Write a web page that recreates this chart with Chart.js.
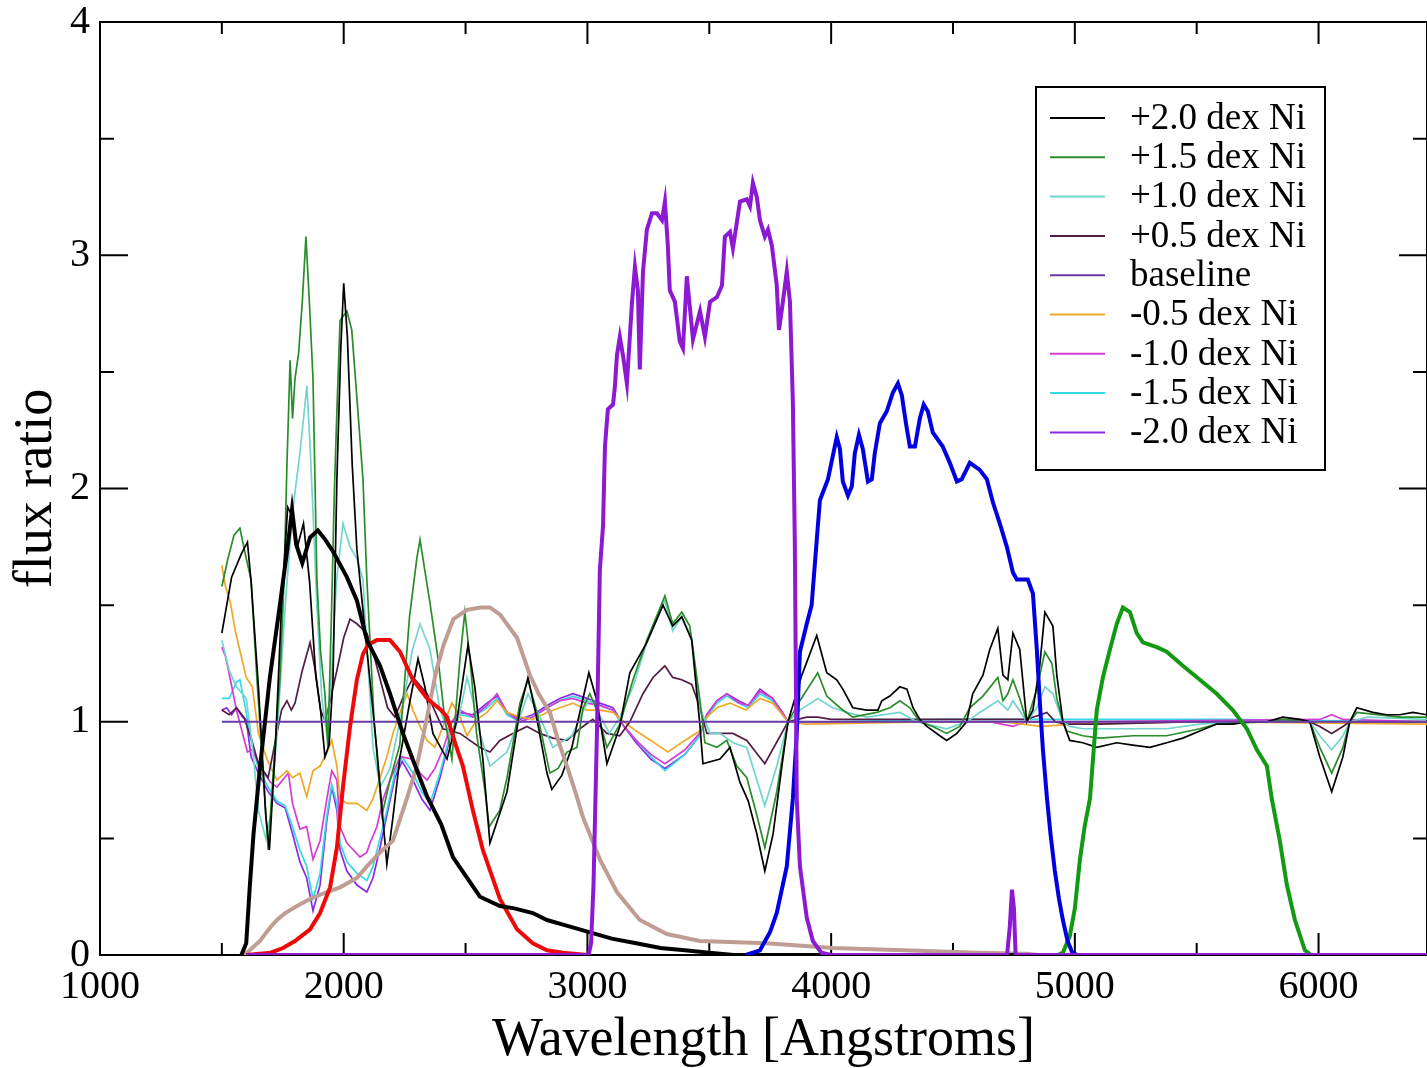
<!DOCTYPE html>
<html><head><meta charset="utf-8">
<script src="https://cdn.jsdelivr.net/npm/chart.js@4/dist/chart.umd.min.js"></script>
<style>html,body{margin:0;padding:0;background:#fff;overflow:hidden}canvas{display:block}</style>
</head><body>
<canvas id="c" width="1427" height="1068"></canvas>
<script>
// ---------- axis ticks ----------
const xTickValues = [1000, 2000, 3000, 4000, 5000, 6000];
const yTickValues = [0, 1, 2, 3, 4];

// ---------- legend labels ----------
const modelLabels = ['+2.0 dex Ni', '+1.5 dex Ni', '+1.0 dex Ni', '+0.5 dex Ni', 'baseline',
                     '-0.5 dex Ni', '-1.0 dex Ni', '-1.5 dex Ni', '-2.0 dex Ni'];

// ---------- model flux ratios: [wavelength, ratio] ----------
const plus20 = [[1500,1.38],[1540,1.62],[1580,1.72],[1605,1.77],[1620,1.6],[1650,1.15],[1680,0.6],[1695,0.45],[1720,0.9],[1745,1.5],[1770,1.92],[1790,1.88],[1810,1.75],[1835,1.85],[1860,1.6],[1885,1.2],[1905,1.05],[1923,0.85],[1940,0.9],[1956,1.18],[1972,2.04],[1988,2.6],[2000,2.88],[2015,2.65],[2035,2.1],[2054,1.74],[2095,1.31],[2136,0.88],[2177,0.39],[2202,0.59],[2231,0.85],[2272,1.09],[2305,1.27],[2333,1.15],[2366,0.95],[2424,0.84],[2465,1.01],[2510,1.33],[2538,1.15],[2571,0.84],[2600,0.48],[2670,0.7],[2723,1.05],[2756,1.19],[2793,1.01],[2834,0.78],[2854,0.71],[2895,0.77],[2936,0.89],[3006,1.21],[3039,1.09],[3080,0.82],[3133,0.98],[3174,1.21],[3244,1.34],[3310,1.50],[3350,1.41],[3387,1.45],[3428,1.35],[3462,0.98],[3474,0.82],[3544,0.84],[3585,0.89],[3626,0.74],[3660,0.66],[3695,0.52],[3728,0.36],[3762,0.52],[3798,0.81],[3823,1.0],[3880,1.2],[3941,1.37],[3982,1.21],[4023,1.18],[4048,1.14],[4089,1.06],[4146,1.05],[4192,1.05],[4208,1.09],[4241,1.11],[4282,1.15],[4311,1.14],[4336,1.06],[4364,1.01],[4393,0.98],[4446,0.94],[4474,0.92],[4516,0.95],[4556,1.0],[4581,1.12],[4623,1.2],[4651,1.31],[4684,1.40],[4705,1.2],[4725,1.18],[4746,1.38],[4774,1.31],[4803,1.0],[4828,1.05],[4856,1.24],[4877,1.47],[4910,1.41],[4926,1.2],[4951,1.0],[4979,0.92],[5033,0.91],[5090,0.89],[5172,0.91],[5238,0.90],[5308,0.89],[5377,0.91],[5443,0.93],[5513,0.96],[5582,0.99],[5648,0.99],[5718,1.0],[5788,1.0],[5853,1.02],[5923,1.01],[5964,1.0],[6005,0.85],[6054,0.70],[6100,0.85],[6128,1.0],[6157,1.06],[6223,1.04],[6280,1.03],[6333,1.03],[6387,1.04],[6445,1.03]];

const plus15 = [[1500,1.58],[1525,1.7],[1550,1.8],[1574,1.83],[1600,1.7],[1620,1.61],[1644,1.18],[1669,0.79],[1690,0.45],[1715,0.85],[1738,1.18],[1755,1.6],[1767,2.1],[1780,2.55],[1790,2.3],[1800,2.47],[1815,2.58],[1830,2.8],[1845,3.08],[1860,2.78],[1874,2.47],[1882,2.04],[1890,1.61],[1905,1.3],[1923,1.12],[1935,0.89],[1950,1.47],[1962,2.0],[1972,2.33],[1985,2.72],[2013,2.76],[2033,2.68],[2054,2.39],[2079,2.04],[2095,1.61],[2125,1.0],[2157,0.6],[2190,0.75],[2230,0.9],[2270,1.45],[2300,1.70],[2313,1.78],[2354,1.51],[2387,1.27],[2415,1.01],[2444,0.84],[2477,1.27],[2497,1.47],[2518,1.27],[2545,0.95],[2580,0.7],[2597,0.55],[2640,0.62],[2670,0.76],[2723,1.08],[2756,1.18],[2793,1.04],[2846,0.78],[2880,0.8],[2916,0.87],[2957,0.89],[2982,1.06],[3010,1.12],[3039,1.05],[3080,0.89],[3133,0.99],[3187,1.18],[3244,1.35],[3318,1.54],[3350,1.42],[3387,1.47],[3420,1.41],[3462,1.09],[3482,0.91],[3531,0.89],[3572,0.92],[3613,0.81],[3654,0.76],[3695,0.6],[3728,0.46],[3777,0.70],[3823,1.0],[3872,1.09],[3945,1.21],[3982,1.11],[4036,1.06],[4089,1.02],[4187,1.04],[4241,1.06],[4282,1.09],[4323,1.06],[4364,1.0],[4417,0.98],[4474,0.95],[4528,0.98],[4569,1.06],[4623,1.11],[4684,1.19],[4705,1.09],[4725,1.12],[4746,1.18],[4774,1.1],[4803,1.0],[4844,1.14],[4877,1.30],[4906,1.25],[4926,1.1],[4951,1.0],[4967,0.96],[5033,0.94],[5103,0.93],[5238,0.94],[5377,0.94],[5513,0.97],[5582,0.99],[5788,1.0],[5853,1.01],[5964,1.0],[6005,0.89],[6054,0.78],[6100,0.89],[6128,1.0],[6157,1.04],[6333,1.02],[6445,1.02]];

const plus10 = [[1500,1.35],[1530,1.22],[1560,1.15],[1600,1.1],[1625,0.9],[1650,0.62],[1680,0.5],[1700,0.6],[1730,1.0],[1760,1.5],[1790,1.9],[1820,2.15],[1849,2.44],[1862,2.18],[1874,1.9],[1890,1.5],[1910,1.1],[1930,0.95],[1950,1.2],[1970,1.6],[1997,1.85],[2026,1.75],[2054,1.70],[2079,1.61],[2095,1.32],[2108,1.11],[2120,0.89],[2150,0.72],[2190,0.8],[2240,1.05],[2280,1.3],[2313,1.42],[2354,1.31],[2395,1.05],[2444,0.92],[2477,1.04],[2506,1.19],[2530,1.09],[2559,0.95],[2600,0.81],[2670,0.87],[2723,1.02],[2756,1.12],[2805,1.02],[2858,0.89],[2936,0.94],[2998,1.08],[3020,1.09],[3090,0.95],[3133,1.02],[3187,1.15],[3244,1.34],[3318,1.52],[3350,1.39],[3387,1.45],[3428,1.36],[3462,1.06],[3503,0.95],[3544,0.95],[3597,0.91],[3654,0.89],[3728,0.64],[3777,0.81],[3823,1.0],[3872,1.05],[3945,1.10],[4007,1.06],[4064,1.04],[4146,1.02],[4282,1.04],[4352,1.0],[4474,0.97],[4556,1.0],[4610,1.04],[4684,1.09],[4725,1.05],[4746,1.09],[4803,1.0],[4844,1.06],[4877,1.15],[4910,1.12],[4951,1.0],[4979,0.98],[5033,0.97],[5377,0.97],[5513,0.99],[5648,1.0],[5964,1.0],[6005,0.94],[6054,0.88],[6100,0.94],[6128,1.0],[6200,1.02],[6445,1.01]];

const plus05 = [[1500,1.05],[1530,1.03],[1560,1.06],[1590,1.02],[1620,0.93],[1650,0.82],[1690,0.76],[1720,0.92],[1745,1.05],[1767,1.09],[1785,1.05],[1800,1.08],[1830,1.22],[1862,1.34],[1885,1.21],[1905,1.05],[1925,1.0],[1950,1.12],[1972,1.22],[2000,1.36],[2026,1.44],[2054,1.42],[2095,1.38],[2120,1.30],[2150,1.18],[2180,1.06],[2210,1.02],[2250,1.12],[2285,1.19],[2342,1.12],[2407,0.97],[2477,0.95],[2559,0.89],[2600,0.87],[2641,0.92],[2694,0.95],[2752,0.98],[2805,0.95],[2858,0.93],[2916,0.92],[2969,0.97],[3022,1.01],[3080,0.95],[3133,0.94],[3174,1.0],[3228,1.12],[3269,1.19],[3318,1.24],[3350,1.19],[3387,1.18],[3428,1.16],[3462,1.06],[3490,0.95],[3544,0.95],[3597,0.95],[3654,0.92],[3728,0.82],[3823,1.0],[3900,1.02],[3945,1.02],[4000,1.01],[4800,1.01],[4860,1.03],[4885,1.04],[4920,1.0],[4960,0.99],[5100,0.99],[5500,1.0],[5964,1.0],[6005,0.98],[6054,0.95],[6100,0.98],[6128,1.0],[6445,1.0]];

const baseline = [[1500,1.0],[6445,1.0]];

const minus05 = [[1500,1.67],[1515,1.58],[1535,1.51],[1555,1.39],[1575,1.30],[1600,1.19],[1625,1.15],[1650,0.95],[1685,0.84],[1726,0.75],[1767,0.79],[1790,0.76],[1820,0.78],[1848,0.68],[1874,0.79],[1903,0.81],[1931,0.87],[1951,0.92],[1972,0.81],[1985,0.67],[2013,0.65],[2054,0.65],[2095,0.62],[2120,0.67],[2149,0.76],[2177,0.85],[2202,0.95],[2231,1.04],[2260,1.12],[2284,1.05],[2313,0.98],[2342,0.92],[2374,0.89],[2407,0.98],[2444,1.08],[2477,1.02],[2506,0.94],[2547,1.01],[2588,1.04],[2629,1.09],[2670,1.04],[2723,1.02],[2776,1.01],[2834,1.04],[2887,1.06],[2940,1.08],[2998,1.05],[3051,1.05],[3105,1.04],[3150,1.0],[3200,0.96],[3260,0.92],[3330,0.87],[3400,0.92],[3460,0.96],[3490,1.02],[3531,1.06],[3585,1.08],[3650,1.05],[3708,1.1],[3760,1.08],[3800,1.03],[3823,1.0],[3900,0.99],[4445,1.0],[4700,1.0],[4860,0.98],[5000,0.99],[5500,1.0],[6445,0.99]];

const minus10 = [[1500,1.32],[1515,1.28],[1535,1.18],[1560,1.05],[1585,0.95],[1605,0.87],[1625,0.88],[1660,0.8],[1700,0.74],[1726,0.72],[1773,0.78],[1790,0.65],[1820,0.54],[1848,0.55],[1874,0.41],[1903,0.49],[1931,0.67],[1951,0.79],[1972,0.75],[1985,0.55],[2013,0.48],[2040,0.45],[2067,0.42],[2095,0.44],[2108,0.48],[2136,0.55],[2162,0.67],[2190,0.75],[2231,0.85],[2284,0.84],[2313,0.78],[2342,0.75],[2374,0.8],[2407,0.88],[2444,1.0],[2477,1.05],[2530,1.02],[2588,1.07],[2629,1.12],[2670,1.04],[2723,1.0],[2776,1.02],[2834,1.06],[2887,1.09],[2940,1.10],[2998,1.08],[3051,1.07],[3105,1.05],[3150,0.98],[3200,0.92],[3260,0.86],[3318,0.82],[3400,0.88],[3460,0.95],[3490,1.03],[3531,1.09],[3572,1.12],[3620,1.08],[3660,1.07],[3708,1.13],[3760,1.1],[3800,1.04],[3823,1.0],[4445,1.0],[4650,1.0],[4700,0.99],[4746,0.98],[4800,1.0],[5000,1.0],[6005,1.01],[6054,1.03],[6100,1.01],[6445,1.0]];

const minus15 = [[1500,1.1],[1530,1.1],[1560,1.17],[1574,1.18],[1600,1.04],[1620,0.92],[1650,0.8],[1690,0.72],[1726,0.66],[1760,0.64],[1790,0.55],[1820,0.45],[1848,0.38],[1874,0.24],[1903,0.35],[1931,0.6],[1951,0.73],[1972,0.65],[1985,0.48],[2013,0.40],[2054,0.35],[2095,0.32],[2120,0.38],[2149,0.5],[2177,0.62],[2210,0.78],[2240,0.85],[2284,0.78],[2320,0.7],[2354,0.65],[2395,0.78],[2436,0.94],[2477,1.03],[2530,1.02],[2588,1.06],[2629,1.1],[2670,1.03],[2723,1.0],[2776,1.02],[2834,1.06],[2887,1.09],[2940,1.11],[2998,1.09],[3051,1.07],[3105,1.05],[3150,0.98],[3200,0.92],[3260,0.85],[3318,0.79],[3400,0.86],[3460,0.94],[3490,1.02],[3531,1.08],[3572,1.11],[3620,1.08],[3660,1.06],[3708,1.12],[3760,1.09],[3800,1.03],[3823,1.0],[4000,1.0],[4445,1.01],[4800,1.01],[5000,1.01],[5600,1.01],[6445,1.0]];

const minus20 = [[1500,1.05],[1520,1.06],[1540,1.03],[1560,1.06],[1585,1.02],[1600,1.01],[1620,0.85],[1650,0.78],[1690,0.7],[1726,0.65],[1760,0.63],[1790,0.52],[1820,0.4],[1848,0.33],[1874,0.19],[1903,0.3],[1931,0.58],[1951,0.72],[1972,0.62],[1985,0.45],[2013,0.36],[2054,0.3],[2095,0.27],[2120,0.33],[2149,0.46],[2177,0.6],[2210,0.76],[2240,0.83],[2284,0.75],[2320,0.67],[2354,0.62],[2395,0.76],[2436,0.93],[2477,1.04],[2530,1.03],[2588,1.08],[2629,1.11],[2670,1.04],[2723,1.01],[2776,1.03],[2834,1.07],[2887,1.10],[2940,1.12],[2998,1.10],[3051,1.08],[3105,1.06],[3150,0.98],[3200,0.91],[3260,0.84],[3318,0.80],[3400,0.86],[3460,0.94],[3490,1.03],[3531,1.09],[3572,1.12],[3620,1.09],[3660,1.07],[3708,1.14],[3760,1.1],[3800,1.04],[3823,1.0],[4000,1.0],[5000,1.0],[6445,1.0]];

// ---------- filter transmission curves (thick lines) ----------
const filterUVW2 = [[1580,0],[1600,0.05],[1615,0.3],[1630,0.52],[1644,0.67],[1656,0.8],[1697,1.19],[1738,1.5],[1770,1.75],[1788,1.91],[1805,1.76],[1830,1.68],[1862,1.79],[1894,1.82],[1925,1.78],[1956,1.73],[2013,1.62],[2054,1.52],[2095,1.35],[2149,1.24],[2190,1.12],[2243,0.95],[2290,0.82],[2342,0.68],[2400,0.56],[2448,0.42],[2500,0.34],[2559,0.25],[2641,0.21],[2700,0.2],[2776,0.18],[2834,0.15],[2900,0.13],[3000,0.1],[3100,0.07],[3200,0.05],[3300,0.03],[3400,0.02],[3500,0.01],[3600,0],[6445,0]];
const filterUVM2 = [[1600,0],[1700,0.01],[1751,0.03],[1800,0.06],[1862,0.11],[1903,0.18],[1944,0.29],[1972,0.46],[1997,0.72],[2026,0.98],[2054,1.18],[2079,1.29],[2100,1.33],[2136,1.35],[2190,1.35],[2231,1.30],[2284,1.18],[2342,1.1],[2400,1.05],[2424,1.02],[2460,0.9],[2489,0.81],[2530,0.62],[2571,0.45],[2641,0.24],[2711,0.11],[2776,0.05],[2834,0.02],[2900,0.01],[3000,0]];
const filterUVW1 = [[1580,0],[1603,0.01],[1656,0.06],[1700,0.12],[1726,0.15],[1760,0.18],[1808,0.21],[1862,0.24],[1931,0.27],[1985,0.29],[2054,0.33],[2095,0.38],[2149,0.44],[2202,0.49],[2259,0.67],[2300,0.81],[2342,1.02],[2380,1.22],[2410,1.33],[2450,1.44],[2506,1.48],[2560,1.49],[2600,1.49],[2641,1.46],[2711,1.36],[2764,1.2],[2800,1.12],[2846,1.04],[2880,0.92],[2916,0.81],[2950,0.7],[2982,0.59],[3051,0.41],[3121,0.27],[3215,0.15],[3326,0.09],[3462,0.06],[3736,0.05],[4007,0.03],[4300,0.02],[4600,0.01],[4800,0.005],[4850,0]];
const filterU = [[1600,0],[3005,0],[3015,0.05],[3025,0.3],[3039,0.95],[3051,1.65],[3064,1.84],[3072,2.18],[3084,2.34],[3105,2.36],[3113,2.44],[3121,2.57],[3133,2.65],[3146,2.57],[3162,2.45],[3174,2.65],[3183,2.8],[3195,2.95],[3207,2.85],[3215,2.51],[3228,2.93],[3244,3.11],[3265,3.18],[3285,3.18],[3306,3.15],[3318,3.23],[3330,3.04],[3338,2.85],[3359,2.8],[3379,2.63],[3392,2.6],[3408,2.91],[3421,2.77],[3433,2.64],[3462,2.76],[3482,2.65],[3503,2.8],[3531,2.82],[3552,2.87],[3564,3.08],[3585,3.1],[3597,3.03],[3613,3.14],[3626,3.23],[3654,3.24],[3667,3.21],[3679,3.31],[3695,3.25],[3708,3.15],[3728,3.08],[3741,3.11],[3757,3.04],[3777,2.87],[3786,2.68],[3802,2.8],[3818,2.93],[3831,2.8],[3843,2.37],[3851,1.77],[3859,0.67],[3872,0.38],[3900,0.16],[3925,0.06],[3960,0.01],[4000,0],[4722,0],[4733,0.12],[4742,0.28],[4750,0.2],[4757,0],[6445,0]];
const filterB = [[3650,0],[3708,0.02],[3750,0.1],[3777,0.18],[3818,0.38],[3843,0.67],[3859,0.95],[3872,1.3],[3900,1.42],[3920,1.5],[3941,1.78],[3954,1.95],[3987,2.04],[4007,2.14],[4023,2.22],[4036,2.17],[4048,2.03],[4069,1.97],[4085,2.01],[4097,2.15],[4114,2.23],[4130,2.17],[4151,2.03],[4167,2.04],[4179,2.15],[4200,2.28],[4228,2.33],[4253,2.41],[4274,2.45],[4290,2.4],[4307,2.28],[4323,2.18],[4344,2.18],[4364,2.3],[4380,2.36],[4397,2.33],[4417,2.24],[4458,2.18],[4487,2.11],[4516,2.03],[4536,2.04],[4569,2.11],[4610,2.08],[4639,2.04],[4664,1.94],[4692,1.85],[4721,1.75],[4746,1.64],[4762,1.61],[4807,1.61],[4828,1.55],[4844,1.31],[4856,1.09],[4869,0.88],[4885,0.68],[4900,0.52],[4918,0.36],[4935,0.24],[4951,0.15],[4970,0.06],[4990,0.01],[5010,0]];
const filterV = [[4930,0],[4951,0.01],[4979,0.08],[5000,0.2],[5021,0.41],[5040,0.55],[5062,0.67],[5090,1.05],[5115,1.19],[5144,1.31],[5172,1.42],[5197,1.49],[5226,1.47],[5254,1.38],[5279,1.34],[5336,1.32],[5377,1.30],[5443,1.24],[5513,1.18],[5582,1.12],[5648,1.05],[5706,0.97],[5747,0.88],[5788,0.81],[5808,0.67],[5841,0.49],[5870,0.3],[5903,0.15],[5944,0.02],[5970,0],[6445,0]];

// ---------- styling ----------
const SERIF = '"Liberation Serif", "Times New Roman", Times, serif';
const modelData = [plus20, plus15, plus10, plus05, baseline, minus05, minus10, minus15, minus20];
const modelColors = ['#000000', '#2a8c2a', '#72d6cc', '#521c44', '#6b3aa6', '#f0a828', '#d43cd4', '#34d8e6', '#8a2be2'];
const filterData = [filterU, filterB, filterV, filterUVW2, filterUVM2, filterUVW1];
const filterColors = ['#8c1ad2', '#0000e0', '#129a12', '#000000', '#ee0a0a', '#bf9d92'];

const toXY = arr => arr.map(p => ({x: p[0], y: p[1]}));

const datasets = [];
filterData.forEach((d, i) => datasets.push({
  label: 'filter' + i, data: toXY(d), borderColor: filterColors[i], borderWidth: 4,
  pointRadius: 0, fill: false, tension: 0, order: 1
}));
modelData.forEach((d, i) => datasets.push({
  label: modelLabels[i], data: toXY(d), borderColor: modelColors[i], borderWidth: i === 4 ? 2 : 1.7,
  pointRadius: 0, fill: false, tension: 0, order: i === 4 ? 1.5 : 2
}));

const framePlugin = {
  id: 'frame',
  beforeDatasetsDraw(chart) {
    const {ctx, chartArea: a, scales: {x, y}} = chart;
    ctx.save();
    ctx.strokeStyle = '#000'; ctx.lineWidth = 2;
    ctx.strokeRect(a.left, a.top, a.right - a.left, a.bottom - a.top);
    ctx.beginPath();
    for (let v = 1000; v <= x.max; v += 500) {
      const px = x.getPixelForValue(v), L = (v % 1000 === 0) ? 22 : 12;
      ctx.moveTo(px, a.bottom); ctx.lineTo(px, a.bottom - L);
      ctx.moveTo(px, a.top); ctx.lineTo(px, a.top + L);
    }
    for (let v = 0; v <= 4; v += 0.5) {
      const py = y.getPixelForValue(v), L = (v % 1 === 0) ? 28 : 14;
      ctx.moveTo(a.left, py); ctx.lineTo(a.left + L, py);
      ctx.moveTo(a.right, py); ctx.lineTo(a.right - L, py);
    }
    ctx.stroke();
    ctx.restore();
  }
};

const legendPlugin = {
  id: 'boxLegend',
  afterDraw(chart) {
    const ctx = chart.ctx;
    const bx = 1036, by = 87, bw = 289, bh = 383;
    ctx.save();
    ctx.fillStyle = '#fff'; ctx.fillRect(bx, by, bw, bh);
    ctx.strokeStyle = '#000'; ctx.lineWidth = 2; ctx.strokeRect(bx, by, bw, bh);
    ctx.font = '37px ' + SERIF; ctx.textBaseline = 'middle'; ctx.textAlign = 'left';
    modelLabels.forEach((lab, i) => {
      const yy = by + 31 + i * 39.3;
      ctx.strokeStyle = modelColors[i]; ctx.lineWidth = 2;
      ctx.beginPath(); ctx.moveTo(bx + 14, yy); ctx.lineTo(bx + 69, yy); ctx.stroke();
      ctx.fillStyle = '#000'; ctx.fillText(lab, bx + 94, yy + 1);
    });
    ctx.restore();
  }
};

new Chart(document.getElementById('c'), {
  type: 'line',
  data: {datasets},
  options: {
    responsive: false, animation: false, events: [],
    layout: {padding: {top: 22, right: 0, left: 0, bottom: 0}},
    plugins: {legend: {display: false}, tooltip: {enabled: false}},
    scales: {
      x: {
        type: 'linear', min: 1000, max: 6445,
        afterFit(s) { s.height = 113; s.paddingLeft = 0; s.paddingRight = 0; },
        afterBuildTicks(s) { s.ticks = xTickValues.map(v => ({value: v})); },
        grid: {display: false, drawTicks: false}, border: {display: false},
        ticks: {color: '#000', font: {family: SERIF, size: 40}, padding: 8, maxRotation: 0, autoSkip: false,
                callback: v => String(v)},
        title: {display: true, text: 'Wavelength [Angstroms]', color: '#000',
                font: {family: SERIF, size: 54, lineHeight: 1.0}, padding: {top: 0, bottom: 0}}
      },
      y: {
        type: 'linear', min: 0, max: 4,
        afterFit(s) { s.width = 100; s.paddingTop = 0; s.paddingBottom = 0; },
        afterBuildTicks(s) { s.ticks = yTickValues.map(v => ({value: v})); },
        grid: {display: false, drawTicks: false}, border: {display: false},
        ticks: {color: '#000', font: {family: SERIF, size: 40}, padding: 10, callback: v => String(v)},
        title: {display: true, text: 'flux ratio', color: '#000',
                font: {family: SERIF, size: 54, lineHeight: 1.0}, padding: {top: 10, bottom: 0}}
      }
    }
  },
  plugins: [framePlugin, legendPlugin]
});
</script>
</body></html>
